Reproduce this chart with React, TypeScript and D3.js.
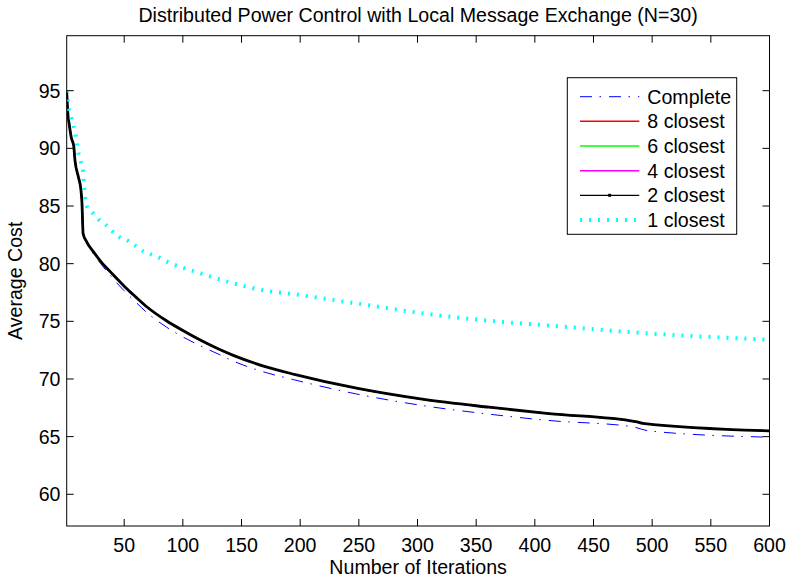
import React from "react";
import * as d3 from "d3";

const W = 788;
const H = 577;

const xTicks = [50, 100, 150, 200, 250, 300, 350, 400, 450, 500, 550, 600];
const yTicks = [60, 65, 70, 75, 80, 85, 90, 95];

// "Complete" message exchange
const completeIter = [1, 2, 3, 5, 7, 8, 11, 13, 14, 15, 18, 24, 30, 40, 50, 60, 70, 86, 100, 114, 130, 143, 171, 194, 248, 304, 361, 412, 483, 497, 600];
const completeCost = [94.9, 93.0, 92.2, 90.9, 90.2, 89.0, 87.5, 86.5, 85.3, 82.6, 81.8, 80.8, 80.0, 78.75, 77.65, 76.65, 75.7, 74.5, 73.65, 72.92, 72.17, 71.55, 70.55, 69.95, 68.7, 67.7, 66.95, 66.4, 65.86, 65.5, 64.95];

// k closest (8, 6, 4, 2 closest overlap almost exactly)
const closestIter = [1, 2, 3, 5, 7, 8, 11, 13, 14, 15, 18, 24, 30, 40, 50, 60, 70, 86, 100, 114, 130, 143, 171, 195, 248, 304, 361, 412, 486, 492, 600];
const closest8Cost = [94.9, 93.0, 92.2, 90.9, 90.2, 89.0, 87.5, 86.5, 85.3, 82.6, 81.9, 81.0, 80.2, 79.1, 78.05, 77.1, 76.2, 75.05, 74.2, 73.42, 72.62, 72.05, 71.05, 70.4, 69.2, 68.25, 67.55, 67.0, 66.3, 66.15, 65.5];
const closest6Cost = [94.9, 93.0, 92.2, 90.9, 90.2, 89.0, 87.5, 86.5, 85.3, 82.6, 81.9, 81.0, 80.2, 79.1, 78.05, 77.1, 76.2, 75.05, 74.2, 73.42, 72.62, 72.05, 71.05, 70.4, 69.2, 68.25, 67.55, 67.0, 66.3, 66.15, 65.5];
const closest4Cost = [94.9, 93.0, 92.2, 90.9, 90.2, 89.0, 87.5, 86.5, 85.3, 82.6, 81.9, 81.0, 80.2, 79.1, 78.05, 77.1, 76.2, 75.05, 74.2, 73.42, 72.62, 72.05, 71.05, 70.4, 69.2, 68.25, 67.55, 67.0, 66.3, 66.15, 65.5];
const closest2Cost = [94.9, 93.0, 92.2, 90.9, 90.2, 89.0, 87.5, 86.5, 85.3, 82.6, 81.9, 81.0, 80.2, 79.1, 78.05, 77.1, 76.2, 75.05, 74.2, 73.42, 72.62, 72.05, 71.05, 70.4, 69.2, 68.25, 67.55, 67.0, 66.3, 66.15, 65.5];

// 1 closest
const closest1Iter = [1, 2, 3, 5, 7, 10, 11, 13, 15, 16, 18, 23, 28, 34, 40, 46, 53, 59, 66, 73, 80, 86, 114, 143, 171, 191, 248, 304, 356, 416, 490, 600];
const closest1Cost = [95.0, 94.2, 93.4, 92.6, 91.9, 90.3, 89.6, 88.9, 88.0, 86.5, 85.0, 84.4, 83.85, 83.4, 82.8, 82.3, 82.0, 81.6, 81.1, 80.8, 80.5, 80.2, 79.2, 78.3, 77.65, 77.4, 76.55, 75.7, 75.1, 74.6, 74.0, 73.4];

const legendLabels = ["Complete", "8 closest", "6 closest", "4 closest", "2 closest", "1 closest"];

const FONT = "'Liberation Sans', Arial, Helvetica, sans-serif";
const FS = 19.6;

const plot = { left: 66.7, right: 769.5, top: 35.7, bottom: 526 };

export default function App() {
  const x = d3.scaleLinear().domain([1, 600]).range([plot.left, plot.right]);
  const y = d3.scaleLinear().domain([57.25, 99.77]).range([plot.bottom, plot.top]);

  const line = (xs: number[], ys: number[]) =>
    d3
      .line<number>()
      .x((_, i) => x(xs[i]))
      .y((d) => y(d))
      .curve(d3.curveMonotoneX)(ys) || "";

  const series = [
    { label: legendLabels[0], d: line(completeIter, completeCost), color: "#0000ff", w: 1, dash: "12 7.5 1.5 8" },
    { label: legendLabels[1], d: line(closestIter, closest8Cost), color: "#ff0000", w: 1.5, dash: "" },
    { label: legendLabels[2], d: line(closestIter, closest6Cost), color: "#00ff00", w: 1.5, dash: "" },
    { label: legendLabels[3], d: line(closestIter, closest4Cost), color: "#ff00ff", w: 1.5, dash: "" },
    { label: legendLabels[4], d: line(closestIter, closest2Cost), color: "#000000", w: 2.8, dash: "" },
    { label: legendLabels[5], d: line(closest1Iter, closest1Cost), color: "#00ffff", w: 4, dash: "2 7" },
  ];

  const tickLen = 7;
  const midX = (plot.left + plot.right) / 2;
  const midY = (plot.top + plot.bottom) / 2;

  const leg = { x0: 567.3, y0: 77.7, x1: 736.7, y1: 234.3, row0: 96.7, step: 24.65, lx0: 580, lx1: 639.3, tx: 647.3 };

  return (
    <svg width={W} height={H} style={{ position: "absolute", left: 0, top: 0, display: "block", background: "#fff" }} fontFamily={FONT}>
      <rect x={0} y={0} width={W} height={H} fill="#fff" />
      <defs>
        <clipPath id="plotclip">
          <rect x={plot.left} y={plot.top} width={plot.right - plot.left} height={plot.bottom - plot.top} />
        </clipPath>
      </defs>
      <text x={midX} y={22} textAnchor="middle" fontSize={FS} fill="#000">
        Distributed Power Control with Local Message Exchange (N=30)
      </text>

      <g clipPath="url(#plotclip)">
        {series.map((s, i) => (
          <path key={i} d={s.d} fill="none" stroke={s.color} strokeWidth={s.w} strokeDasharray={s.dash || undefined} strokeLinejoin="round" />
        ))}
      </g>

      {/* axes box */}
      <rect x={plot.left} y={plot.top} width={plot.right - plot.left} height={plot.bottom - plot.top} fill="none" stroke="#000" strokeWidth={1} />

      {xTicks.map((t) => (
        <g key={"x" + t}>
          <line x1={x(t)} x2={x(t)} y1={plot.bottom} y2={plot.bottom - tickLen} stroke="#000" />
          <line x1={x(t)} x2={x(t)} y1={plot.top} y2={plot.top + tickLen} stroke="#000" />
          <text x={x(t)} y={552} textAnchor="middle" fontSize={FS} fill="#000">{t}</text>
        </g>
      ))}
      {yTicks.map((t) => (
        <g key={"y" + t}>
          <line x1={plot.left} x2={plot.left + tickLen} y1={y(t)} y2={y(t)} stroke="#000" />
          <line x1={plot.right} x2={plot.right - tickLen} y1={y(t)} y2={y(t)} stroke="#000" />
          <text x={60.5} y={y(t) + FS * 0.358} textAnchor="end" fontSize={FS} fill="#000">{t}</text>
        </g>
      ))}

      <text x={midX} y={574} textAnchor="middle" fontSize={FS} fill="#000">Number of Iterations</text>
      <text transform={`translate(21.6, ${midY}) rotate(-90)`} textAnchor="middle" fontSize={FS} fill="#000">Average Cost</text>

      {/* legend */}
      <rect x={leg.x0} y={leg.y0} width={leg.x1 - leg.x0} height={leg.y1 - leg.y0} fill="#fff" stroke="#000" strokeWidth={1} />
      {series.map((s, i) => {
        const yy = leg.row0 + i * leg.step;
        return (
          <g key={"l" + i}>
            <line x1={leg.lx0} x2={leg.lx1} y1={yy} y2={yy} stroke={s.color} strokeWidth={i === 4 ? 1.2 : i === 5 ? 4 : s.w} strokeDasharray={s.dash || undefined} />
            {i === 4 && <rect x={(leg.lx0 + leg.lx1) / 2 - 1.5} y={yy - 1.5} width={3} height={3} fill="#000" />}
            <text x={leg.tx} y={yy + FS * 0.358} fontSize={FS} fill="#000">{s.label}</text>
          </g>
        );
      })}
    </svg>
  );
}
